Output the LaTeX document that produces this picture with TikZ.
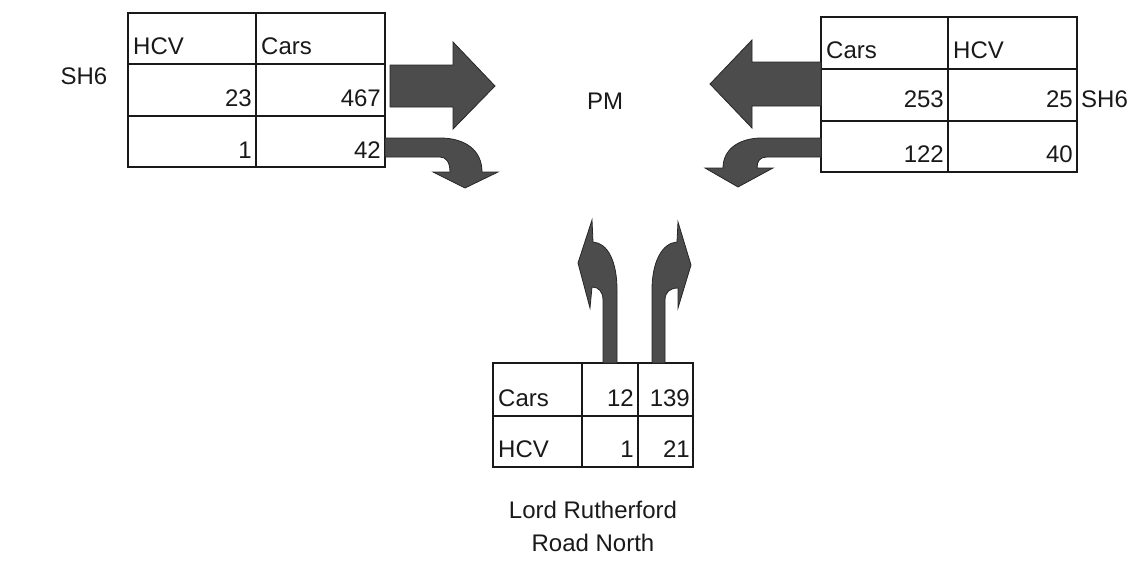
\documentclass[tikz,border=0pt]{standalone}
\usepackage{fontspec}
\setmainfont{Liberation Sans}
\begin{document}
\begin{tikzpicture}[x=1pt,y=-1pt,
  grid/.style={line width=1.4pt,draw=black!90},
  txt/.style={inner sep=0pt,font=\fontsize{24}{28}\selectfont,text=black!90},
  lt/.style={txt,anchor=base west},
  rt/.style={txt,anchor=base east},
  ct/.style={txt,anchor=base},
  flow/.style={fill=black!70,draw=black!85,line width=0.8pt,line join=miter}]
\useasboundingbox (0,0) rectangle (1141,562);
% left table
\draw[grid] (128,13) rectangle (385,167);
\draw[grid] (256,13) -- (256,167);
\draw[grid] (128,64) -- (385,64) (128,116) -- (385,116);
\node[lt] (lh) at (133,54) {HCV};
\node[lt] (lc) at (261,54) {Cars};
\node[rt] (l23) at (252,106) {23};
\node[rt] (l467) at (381,106) {467};
\node[rt] (l1) at (252,158) {1};
\node[rt] (l42) at (381,158) {42};
\node[ct] (sh6l) at (84,84) {SH6};
% right table
\draw[grid] (821,17) rectangle (1077,172);
\draw[grid] (948,17) -- (948,172);
\draw[grid] (821,69) -- (1077,69) (821,121) -- (1077,121);
\node[lt] (rc) at (826,58) {Cars};
\node[lt] (rh) at (953,58) {HCV};
\node[rt] (r253) at (944,107) {253};
\node[rt] (r25) at (1073,107) {25};
\node[lt] (sh6r) at (1081,107) {SH6};
\node[rt] (r122) at (944,162) {122};
\node[rt] (r40) at (1073,162) {40};
% bottom table
\draw[grid] (493,363) rectangle (693,467);
\draw[grid] (582,363) -- (582,467) (638,363) -- (638,467);
\draw[grid] (493,416) -- (693,416);
\node[lt] (bc) at (498,406) {Cars};
\node[rt] (b12) at (634,406) {12};
\node[rt] (b139) at (690,406) {139};
\node[lt] (bh) at (498,457) {HCV};
\node[rt] (b1) at (634,457) {1};
\node[rt] (b21) at (690,457) {21};
\node[ct] (lord) at (593,518) {Lord Rutherford};
\node[ct] (road) at (593,551) {Road North};
\node[ct] (pm) at (605,109) {PM};
% arrows
\draw[flow] (390,65) -- (453,65) -- (453,42) -- (495,86) -- (453,129) -- (453,107) -- (390,107) -- cycle;
\draw[flow] (821,62) -- (752,62) -- (752,40) -- (710,84) -- (752,128) -- (752,106) -- (821,106) -- cycle;
\draw[flow] (385,138) -- (440,138) .. controls (465,138) and (482,150) .. (482,172)
  -- (498,172) -- (465,188) -- (433,172) -- (450,172)
  .. controls (450,162) and (446,157) .. (440,157) -- (385,157) -- cycle;
\draw[flow] (821,138) -- (762,138) .. controls (738,138) and (723,150) .. (723,168)
  -- (705,168) -- (738,187) -- (773,168) -- (757,168)
  .. controls (757,161) and (760,157) .. (767,157) -- (821,157) -- cycle;
\draw[flow] (603,363) -- (603,300) .. controls (603,292) and (599,287) .. (592,287)
  -- (590,308) -- (578,263) -- (592,220) -- (593,242)
  .. controls (608,243) and (617,262) .. (617,290) -- (617,363) -- cycle;
\draw[flow] (665,363) -- (665,300) .. controls (665,292) and (670,288) .. (678,288)
  -- (678,308) -- (691,265) -- (678,222) -- (677,242)
  .. controls (662,243) and (652,262) .. (652,290) -- (652,363) -- cycle;
\end{tikzpicture}
\end{document}
